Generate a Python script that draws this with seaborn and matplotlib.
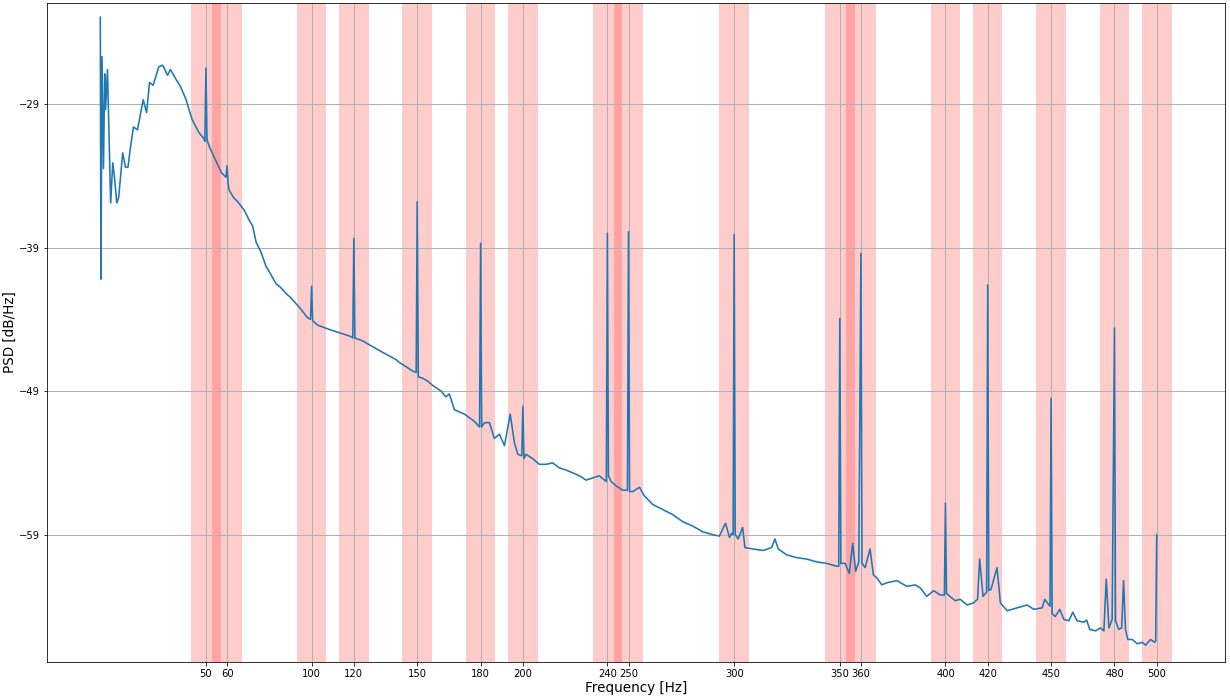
import numpy as np
import pandas as pd
import matplotlib
matplotlib.use("Agg")
import matplotlib.pyplot as plt
import seaborn as sns

# Power spectral density estimate (frequency in Hz, level in dB/Hz)
freq_hz = [
    0.0, 0.3, 0.8, 1.5, 2.1, 2.5, 3.4, 4.9, 5.9, 6.7, 7.8, 8.7, 10.6, 11.9, 13.1,
    14.3, 15.7, 17.6, 18.5, 20.3, 21.9, 23.3, 25.0, 27.7, 29.6, 31.8, 33.2, 35.9,
    38.0, 40.6, 43.5, 46.7, 49.0, 49.5, 50.0, 50.5, 51.7, 54.2, 57.4, 59.5, 60.0,
    60.5, 61.0, 63.0, 65.0, 68.1, 70.5, 72.1, 73.7, 76.0, 78.4, 80.8, 83.1, 85.5,
    87.9, 90.2, 92.6, 95.0, 98.1, 99.5, 100.0, 100.5, 102.8, 108.3, 114.6, 118.6,
    119.5, 120.0, 120.5, 124.1, 128.8, 133.6, 139.9, 141.5, 144.7, 147.8, 149.5,
    150.0, 150.5, 152.5, 154.9, 157.3, 161.3, 163.5, 165.2, 167.6, 172.3, 177.0,
    179.5, 180.0, 180.5, 181.8, 184.2, 186.5, 188.9, 191.3, 194.0, 196.0, 197.6,
    199.5, 200.0, 200.5, 201.5, 204.6, 207.8, 211.0, 214.1, 217.3, 220.5, 223.6,
    226.8, 229.9, 233.0, 236.2, 238.6, 239.5, 240.0, 240.5, 241.8, 244.1, 247.3,
    249.5, 250.0, 250.5, 252.0, 255.2, 257.5, 261.5, 266.2, 270.9, 275.7, 280.4,
    285.1, 289.9, 293.0, 295.9, 297.8, 298.8, 299.5, 300.0, 300.5, 301.9, 304.0,
    305.1, 309.0, 313.8, 317.7, 319.3, 320.9, 324.8, 329.6, 334.3, 339.1, 343.8,
    348.5, 349.5, 350.0, 350.5, 352.5, 354.5, 356.1, 357.5, 359.0, 360.0, 360.5,
    362.0, 364.3, 365.9, 367.5, 369.9, 372.3, 377.0, 381.7, 385.7, 388.0, 391.2,
    394.4, 397.5, 399.5, 400.0, 400.5, 404.6, 407.0, 410.2, 413.3, 415.2, 416.2,
    417.8, 419.5, 420.0, 420.5, 421.6, 424.4, 426.0, 429.2, 433.9, 438.6, 441.8,
    445.8, 447.0, 449.5, 450.0, 450.5, 452.0, 454.1, 456.0, 458.4, 460.3, 462.3,
    465.5, 466.8, 468.3, 471.0, 473.4, 475.0, 476.1, 477.4, 478.9, 480.0, 480.5,
    482.0, 483.4, 484.3, 485.2, 486.3, 488.4, 490.8, 493.2, 494.7, 497.1, 499.0,
    499.5, 500.0,
]
psd_db = [
    -22.95, -41.2, -25.7, -33.5, -26.9, -29.4, -26.6, -35.9, -33.1, -34.1, -35.9,
    -35.5, -32.4, -33.4, -33.4, -32.0, -30.6, -30.8, -30.1, -28.7, -29.6, -27.5,
    -27.7, -26.4, -26.3, -27.0, -26.6, -27.3, -27.8, -28.7, -30.1, -31.0, -31.4,
    -31.6, -26.5, -31.5, -32.0, -32.8, -33.8, -34.1, -33.3,
    -34.6, -35.0, -35.5, -35.8, -36.4, -37.1, -37.5, -38.6, -39.3, -40.3, -40.9,
    -41.5, -41.8, -42.2, -42.5, -42.9, -43.3, -43.9, -44.0, -41.7, -44.1, -44.4,
    -44.7, -45.0, -45.2, -45.3, -38.35, -45.3, -45.5, -45.9, -46.3, -46.8, -47.0,
    -47.3, -47.6, -47.7, -35.8, -48.0, -48.1, -48.3, -48.6, -49.0, -49.4, -49.2,
    -50.3, -50.6, -51.1, -51.5, -38.7, -51.5, -51.2, -51.2, -52.3, -52.0, -52.8,
    -50.6, -52.6, -53.4, -53.5, -50.05,
    -53.7, -53.4, -53.7, -54.1, -54.1, -54.0, -54.35, -54.5, -54.7, -54.9, -55.2,
    -55.05, -54.9, -55.2, -55.3, -38.0, -54.9, -55.3, -55.6, -55.9, -55.9, -37.9,
    -56.0, -56.0, -55.7, -56.3, -56.9, -57.25, -57.6, -58.1, -58.4, -58.8, -59.0,
    -59.1, -58.2, -59.2, -58.9, -59.0, -38.1, -59.0, -59.3, -58.5,
    -59.9, -60.0, -60.1, -59.9, -59.3, -60.0, -60.4, -60.6, -60.7, -60.9, -61.0,
    -61.2, -61.2, -43.95, -61.0, -61.0, -61.7, -59.6, -61.55, -60.9, -39.4, -61.0,
    -61.3, -60.0, -61.8, -62.0, -62.5, -62.35, -62.2, -62.6, -62.5, -62.7, -63.3,
    -62.9, -63.2, -63.2, -56.8, -63.1, -63.6, -63.5, -63.9, -63.75, -63.5, -60.7,
    -63.3, -63.0, -41.6, -62.9, -62.8, -61.3, -63.75, -64.3, -64.1, -63.9, -64.2,
    -64.1, -63.5, -64.0, -49.5, -64.5, -64.7, -64.2, -64.9, -65.0, -64.4, -65.0,
    -65.1, -64.95, -65.6, -65.7, -65.5, -65.7, -62.1, -65.5, -64.9, -44.6, -65.0,
    -65.6, -65.5, -62.2, -65.6, -66.3, -66.3, -66.6, -66.5, -66.7, -66.3, -66.5,
    -66.4, -59.0,
]

# Mains-related frequencies that get highlighted, with their half band width
marked_hz = [50, 60, 100, 120, 150, 180, 200, 240, 250, 300, 350, 360, 400,
             420, 450, 480, 500]
band_half_width = 7
y_ticks = [-59, -49, -39, -29]

df = pd.DataFrame({"Frequency": freq_hz, "PSD": psd_db})

fig, ax = plt.subplots(figsize=(1230 / 72, 698 / 72), dpi=72)

for f0 in marked_hz:
    ax.axvspan(f0 - band_half_width, f0 + band_half_width, color="red",
               alpha=0.2, linewidth=0)

sns.lineplot(data=df, x="Frequency", y="PSD", ax=ax, color="#1f77b4",
             linewidth=1.6, sort=True, estimator=None)

ax.set_xticks(marked_hz)
ax.set_yticks(y_ticks)
ax.tick_params(axis="both", labelsize=10)
ax.set_ylim(-67.85, -21.95)
ax.grid(True, color="#b0b0b0", linewidth=1.0)
ax.set_xlabel("Frequency [Hz]", fontsize=13.5, labelpad=2)
ax.set_ylabel("PSD [dB/Hz]", fontsize=13.5, labelpad=2)

fig.subplots_adjust(left=0.038, right=0.996, bottom=0.052, top=0.996)
fig.savefig("out.png", dpi=72)
